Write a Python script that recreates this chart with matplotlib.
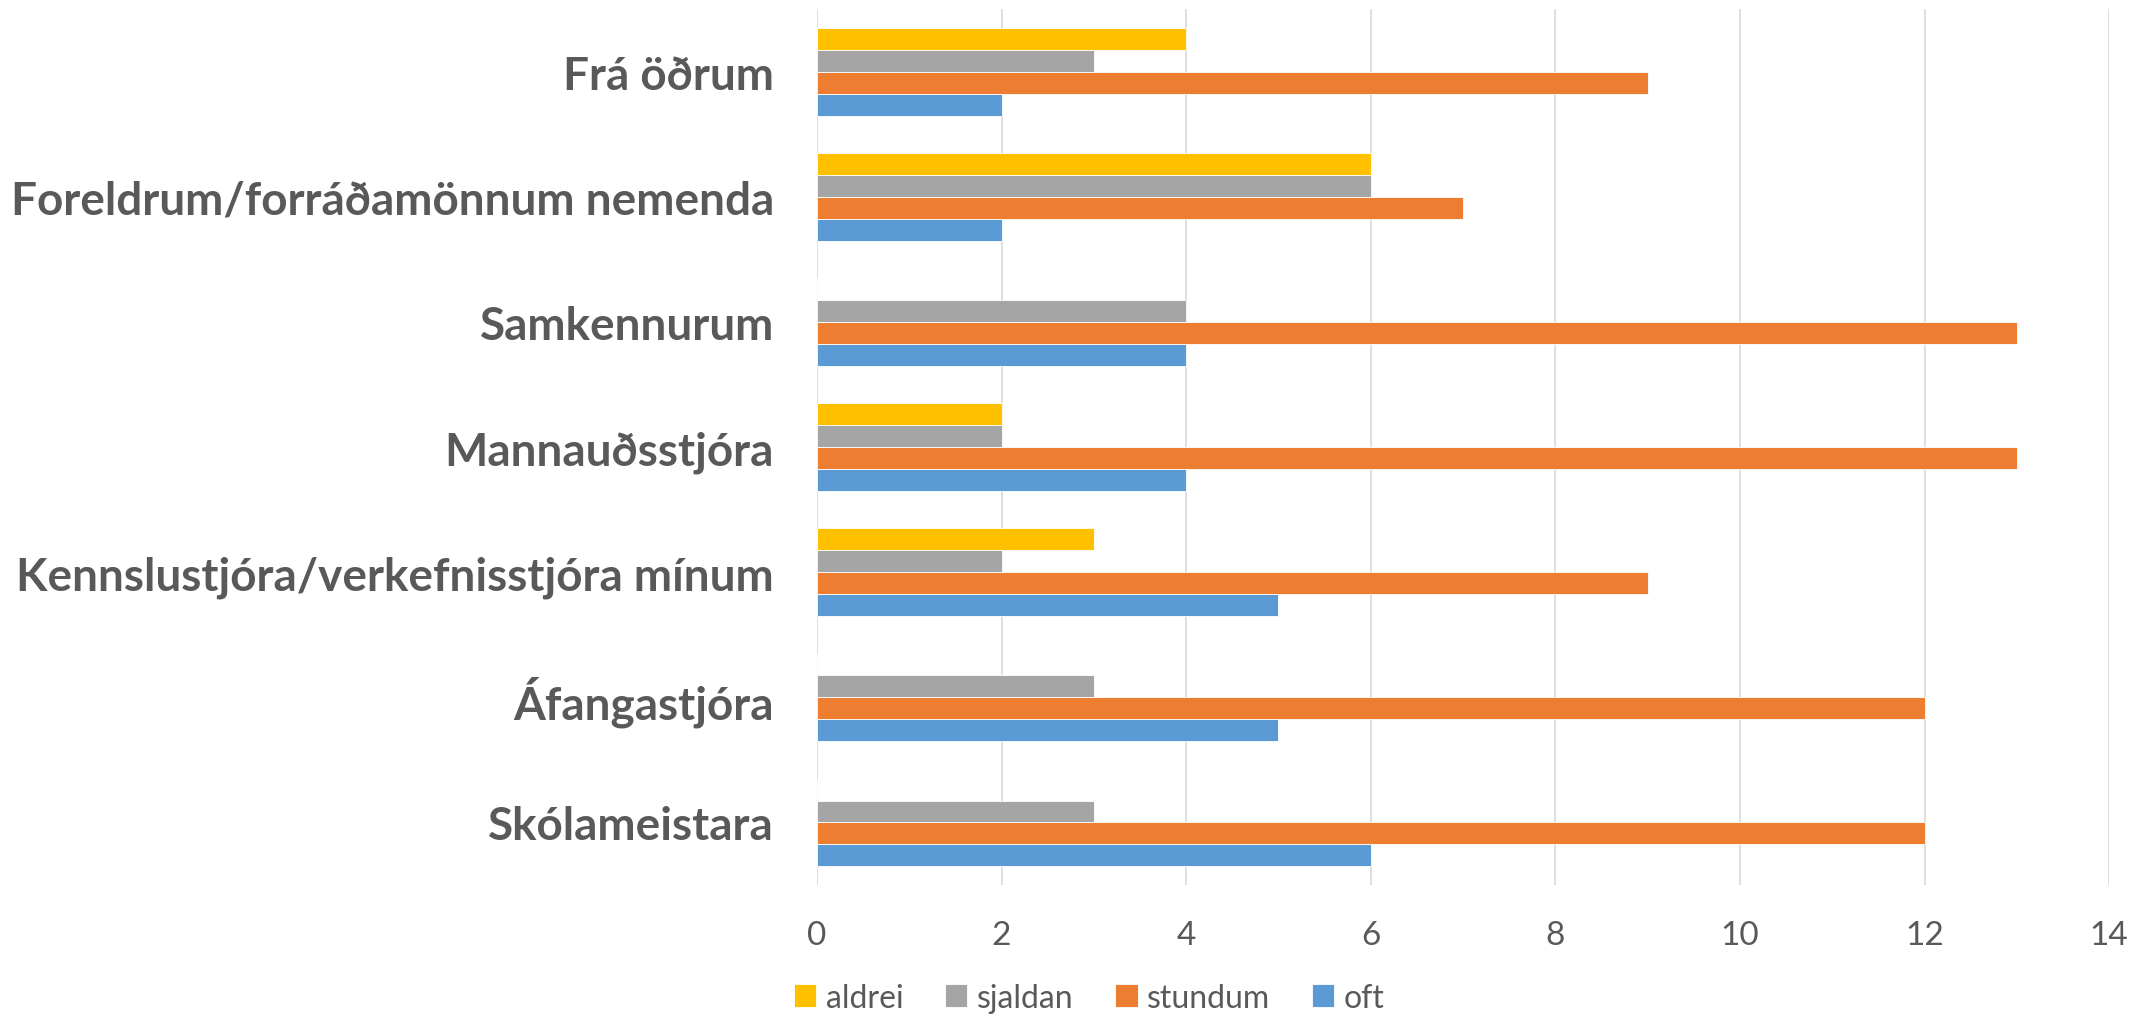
import numpy as np
import matplotlib
matplotlib.use("Agg")
import matplotlib.pyplot as plt

plt.rcParams['font.family'] = ['Lato', 'DejaVu Sans']

categories = ["Skólameistara", "Áfangastjóra", "Kennslustjóra/verkefnisstjóra mínum",
              "Mannauðsstjóra", "Samkennurum", "Foreldrum/forráðamönnum nemenda", "Frá öðrum"]
oft = [6, 5, 5, 4, 4, 2, 2]
stundum = [12, 12, 9, 13, 13, 7, 9]
sjaldan = [3, 3, 2, 2, 4, 6, 3]
aldrei = [0, 0, 3, 2, 0, 6, 4]
x_ticks = [0, 2, 4, 6, 8, 10, 12, 14]

series = [("oft", oft, "#5B9BD5"), ("stundum", stundum, "#ED7D31"),
          ("sjaldan", sjaldan, "#A5A5A5"), ("aldrei", aldrei, "#FFC000")]

fig = plt.figure(figsize=(21.36, 10.2), dpi=100)
ax = fig.add_axes([0.3825, 0.1314, 0.6049, 0.8586])

y = np.arange(len(categories))
h = 0.175
handles = {}
for i, (name, vals, col) in enumerate(series):
    off = (i - 1.5) * h
    handles[name] = ax.barh(y + off, vals, height=h, color=col, edgecolor="white", linewidth=0.6, zorder=3)

ax.set_ylim(-0.5, len(categories) - 0.5)
ax.set_xlim(0, 14)
ax.set_xticks(x_ticks)
ax.set_yticks(y)
ax.set_yticklabels(categories, fontsize=33, fontweight="bold", color="#595959")
ax.tick_params(axis="y", length=0, pad=31)
ax.tick_params(axis="x", length=0, pad=25, labelsize=24, labelcolor="#595959")
ax.grid(axis="x", color="#D9D9D9", linewidth=1.2, zorder=0)
for s in ax.spines.values():
    s.set_visible(False)

order = ["aldrei", "sjaldan", "stundum", "oft"]
fig.legend([handles[n] for n in order], order, loc="lower center", bbox_to_anchor=(0.51, -0.022),
           ncol=4, frameon=False, fontsize=23, labelcolor="#595959",
           handlelength=0.7, handleheight=0.7, handletextpad=0.3, columnspacing=1.3)

fig.savefig("out.png", dpi=100)
